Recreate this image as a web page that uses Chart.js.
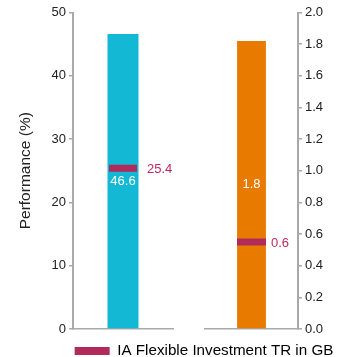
<!DOCTYPE html>
<html>
<head>
<meta charset="utf-8">
<script src="https://cdn.jsdelivr.net/npm/chart.js@4/dist/chart.umd.min.js"></script>
<style>
  html, body { margin: 0; padding: 0; background: #fff; overflow: hidden; }
  #wrap { position: relative; width: 340px; height: 357px; overflow: hidden; }
  #wrap canvas { position: absolute; left: 0; top: 0; }
</style>
</head>
<body>
<div id="wrap"><canvas id="chart" width="395" height="357"></canvas></div>
<script>
// Values
const categories = ['Fund'];
const fundPerformance = [46.6];     // left axis, %
const fundRatio = [1.82];           // right axis
const sectorPerformance = [25.4];   // sector marker, left axis
const sectorRatio = [0.55];         // sector marker, right axis
const sectorName = 'IA Flexible Investment TR in GB';
const leftAxisTitle = 'Performance (%)';
const performanceTicks = [0, 10, 20, 30, 40, 50];
const ratioTicks = [0, 0.2, 0.4, 0.6, 0.8, 1.0, 1.2, 1.4, 1.6, 1.8, 2.0];

const FONT = '"Liberation Sans", Arial, Helvetica, sans-serif';
const AXIS_GREY = '#a9a9a9';
const TEXT_DARK = '#222222';
const CYAN = '#13b8d5';
const ORANGE = '#e87a00';
const CRIMSON = '#b12a5a';
const CRIMSON_TEXT = '#c0295e';

Chart.defaults.font.family = FONT;

// Draws the value of every bar (inside, centred) and of every marker (to its right)
const valueLabels = {
  id: 'valueLabels',
  afterDatasetsDraw(chart) {
    const ctx = chart.ctx;
    chart.data.datasets.forEach((ds, i) => {
      const meta = chart.getDatasetMeta(i);
      meta.data.forEach((el, j) => {
        const text = Number(ds.data[j]).toFixed(1);
        ctx.save();
        ctx.font = '13px ' + FONT;
        ctx.textBaseline = 'middle';
        if (meta.type === 'bar') {
          ctx.fillStyle = '#ffffff';
          ctx.textAlign = 'center';
          ctx.fillText(text, el.x, (el.y + el.base) / 2);
        } else {
          ctx.fillStyle = CRIMSON_TEXT;
          ctx.textAlign = 'left';
          ctx.fillText(text, el.x + ds.pointRadius + ds.labelGap, el.y + 1);
        }
        ctx.restore();
      });
    });
  }
};

// Bottom axes sit side by side in one stack; the middle one is an empty spacer
const bottomAxis = (weight, showLine) => ({
  type: 'category',
  position: 'bottom',
  stack: 'base',
  stackWeight: weight,
  offset: true,
  grid: { display: false, drawTicks: false },
  ticks: { display: false },
  border: { display: showLine, color: AXIS_GREY, width: 1.5 }
});

const markerSet = (data, xId, yId, radius, gap) => ({
  type: 'line',
  label: sectorName,
  data: data,
  xAxisID: xId,
  yAxisID: yId,
  showLine: false,
  pointStyle: 'line',
  pointRadius: radius,
  pointHoverRadius: radius,
  pointBorderWidth: 7,
  pointBorderColor: CRIMSON,
  pointBackgroundColor: CRIMSON,
  borderColor: CRIMSON,
  backgroundColor: CRIMSON,
  labelGap: gap,
  order: 0
});

const barSet = (label, data, xId, yId, colour) => ({
  type: 'bar',
  label: label,
  data: data,
  xAxisID: xId,
  yAxisID: yId,
  backgroundColor: colour,
  borderWidth: 0,
  grouped: false,
  barPercentage: 0.31,
  categoryPercentage: 1,
  order: 1
});

new Chart(document.getElementById('chart'), {
  type: 'bar',
  data: {
    labels: categories,
    datasets: [
      markerSet(sectorPerformance, 'x1', 'y', 14, 10),
      markerSet(sectorRatio, 'x2', 'y2', 14.5, 5),
      barSet('Performance', fundPerformance, 'x1', 'y', CYAN),
      barSet('Ratio', fundRatio, 'x2', 'y2', ORANGE)
    ]
  },
  plugins: [valueLabels],
  options: {
    responsive: false,
    animation: false,
    devicePixelRatio: 1,
    events: [],
    layout: { autoPadding: false, padding: { left: 14, right: 1, top: 12.5, bottom: 0 } },
    scales: {
      x1: bottomAxis(100, true),
      xg: bottomAxis(32, false),
      x2: bottomAxis(93, true),
      y: {
        type: 'linear', position: 'left', min: 0, max: 50,
        afterBuildTicks: s => { s.ticks = performanceTicks.map(v => ({ value: v })); },
        afterFit: s => { s.width = 59; },
        grid: { drawOnChartArea: false, drawTicks: true, tickLength: 4, color: AXIS_GREY, lineWidth: 1.5 },
        border: { display: true, color: AXIS_GREY, width: 2 },
        ticks: { color: TEXT_DARK, font: { size: 13 }, padding: 3, callback: v => String(v) },
        title: { display: true, text: leftAxisTitle, color: TEXT_DARK, font: { size: 15.5 }, padding: { top: 2.7, bottom: 0 } }
      },
      y2: {
        type: 'linear', position: 'right', min: 0, max: 2,
        afterBuildTicks: s => { s.ticks = ratioTicks.map(v => ({ value: v })); },
        afterFit: s => { s.width = 96; },
        grid: { drawOnChartArea: false, drawTicks: true, tickLength: 4, color: AXIS_GREY, lineWidth: 1.5 },
        border: { display: true, color: AXIS_GREY, width: 2 },
        ticks: { color: TEXT_DARK, font: { size: 13 }, padding: 3, callback: v => Number(v).toFixed(1) }
      }
    },
    plugins: {
      tooltip: { enabled: false },
      legend: {
        position: 'bottom',
        align: 'center',
        maxHeight: 28,
        labels: {
          color: CRIMSON_TEXT,
          font: { size: 15.2 },
          boxWidth: 35,
          boxHeight: 8,
          padding: 14.5,
          generateLabels: () => [{
            text: sectorName,
            fillStyle: CRIMSON,
            strokeStyle: CRIMSON,
            lineWidth: 0,
            hidden: false,
            datasetIndex: 0
          }]
        }
      }
    }
  }
});
</script>
</body>
</html>
